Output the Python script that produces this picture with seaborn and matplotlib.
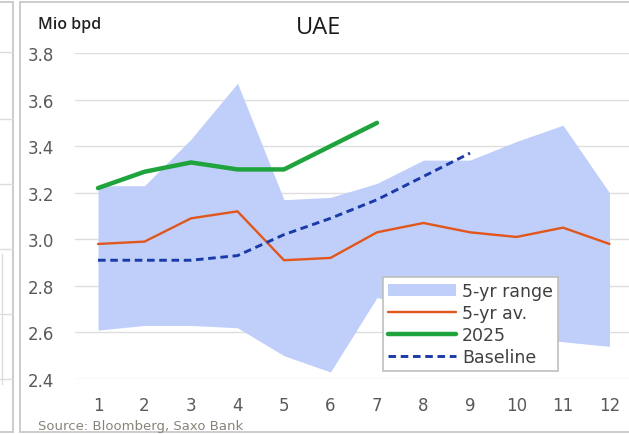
import numpy as np
import pandas as pd
import matplotlib.pyplot as plt
import seaborn as sns
from matplotlib.lines import Line2D

sns.set_style("white")
plt.rcParams["font.family"] = ["DejaVu Sans"]

# ----------------------------------------------------------------
# DATA (Mio bpd)
# ----------------------------------------------------------------
months = [1, 2, 3, 4, 5, 6, 7, 8, 9, 10, 11, 12]
range_high = [3.23, 3.23, 3.43, 3.67, 3.17, 3.18, 3.24, 3.34, 3.34, 3.42, 3.49, 3.20]
range_low = [2.61, 2.63, 2.63, 2.62, 2.50, 2.43, 2.75, 2.70, 2.65, 2.58, 2.56, 2.54]
avg_5yr = [2.98, 2.99, 3.09, 3.12, 2.91, 2.92, 3.03, 3.07, 3.03, 3.01, 3.05, 2.98]
months_2025 = [1, 2, 3, 4, 5, 6, 7]
sales_2025 = [3.22, 3.29, 3.33, 3.30, 3.30, 3.40, 3.50]
months_base = [1, 2, 3, 4, 5, 6, 7, 8, 9]
baseline = [2.91, 2.91, 2.91, 2.93, 3.02, 3.09, 3.17, 3.27, 3.37]
yticks = [2.4, 2.6, 2.8, 3.0, 3.2, 3.4, 3.6, 3.8]

df_avg = pd.DataFrame({"month": months, "value": avg_5yr})
df_25 = pd.DataFrame({"month": months_2025, "value": sales_2025})
df_base = pd.DataFrame({"month": months_base, "value": baseline})

# ----------------------------------------------------------------
# PLOT
# ----------------------------------------------------------------
W, H = 629, 435
fig = plt.figure(figsize=(W / 100, H / 100), dpi=100)
ax = fig.add_axes([75 / W, 55 / H, 554 / W, 326 / H])

ax.fill_between(months, range_low, range_high, color="#bfcffa", lw=0,
                label="5-yr range", zorder=1)
sns.lineplot(data=df_avg, x="month", y="value", ax=ax, color="#e2561c",
             lw=1.7, label="5-yr av.", zorder=3)
sns.lineplot(data=df_25, x="month", y="value", ax=ax, color="#1fa33c",
             lw=3.2, label="2025", zorder=4, solid_capstyle="round")
sns.lineplot(data=df_base, x="month", y="value", ax=ax, color="#1a3aa8",
             lw=2.1, label="Baseline", zorder=4, dashes=(2.6, 1.6))

ax.set_xlim(0.505, 12.42)
ax.set_ylim(2.4, 3.8)
ax.set_xticks(months)
ax.set_yticks(yticks)
ax.set_yticklabels([f"{v:.1f}" for v in yticks])
ax.set_xlabel("")
ax.set_ylabel("")
ax.grid(axis="y", color="#dedede", lw=1.0)
ax.grid(axis="x", visible=False)
ax.set_axisbelow(True)
for s in ax.spines.values():
    s.set_visible(False)
ax.tick_params(axis="y", length=0, pad=15, labelsize=12, labelcolor="#595959")
ax.tick_params(axis="x", length=0, pad=12, labelsize=12, labelcolor="#595959")

leg = ax.legend(loc="lower left", bbox_to_anchor=(0.556, 0.025),
                borderaxespad=0, fontsize=12.5, frameon=True, fancybox=False,
                edgecolor="#bfbfbf", framealpha=1, handlelength=3.9,
                handletextpad=0.35, labelspacing=0.22, borderpad=0.3)
leg.get_frame().set_linewidth(1.2)
for t in leg.get_texts():
    t.set_color("#404040")

fig.text(318 / W, 1 - 28 / H, "UAE", ha="center", va="center",
         fontsize=17, family="Open Sans", color="#1a1a1a")
fig.text(38 / W, 1 - 25 / H, "Mio bpd", ha="left", va="center",
         fontsize=11.5, family="Open Sans", color="#222222", weight="semibold")
fig.text(38 / W, 1 - 427 / H, "Source: Bloomberg, Saxo Bank", ha="left",
         va="center", fontsize=9.5, color="#8a8278")

# panel borders (this panel and the edge of the neighbouring one)
def px_line(x0, y0, x1, y1, color="#c8c8c8", lw=1.3):
    fig.add_artist(Line2D([x0 / W, x1 / W], [1 - y0 / H, 1 - y1 / H],
                          transform=fig.transFigure, color=color, lw=lw))

px_line(20, 3, 20, 433)
px_line(20, 3, W, 3)
px_line(20, 433, W, 433)
px_line(13, 3, 13, 433)
px_line(0, 3, 13, 3)
px_line(0, 433, 13, 433)
for yy in [53, 120, 185, 250, 315, 380]:
    px_line(0, yy, 13, yy, color="#dcdcdc", lw=1.0)
px_line(2, 255, 2, 385, color="#dcdcdc", lw=1.0)

plt.savefig("out.png", dpi=100)
